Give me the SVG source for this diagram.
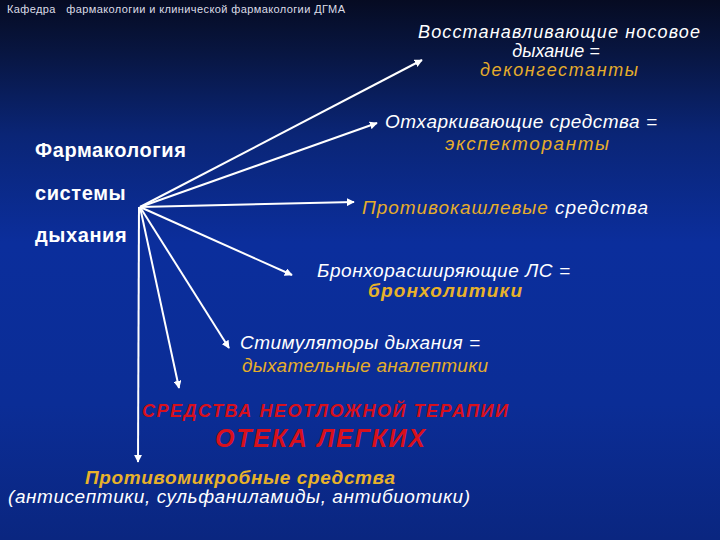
<svg xmlns="http://www.w3.org/2000/svg" width="720" height="540" viewBox="0 0 720 540">
<defs>
<linearGradient id="bg" x1="0" y1="0" x2="0" y2="1">
<stop offset="0" stop-color="#060b22"/>
<stop offset="0.1" stop-color="#081642"/>
<stop offset="0.25" stop-color="#0a2576"/>
<stop offset="0.45" stop-color="#0b2e9c"/>
<stop offset="0.75" stop-color="#0b2d96"/>
<stop offset="1" stop-color="#0a2680"/>
</linearGradient>
<marker id="ah" viewBox="0 0 10 10" refX="9" refY="5" markerWidth="4" markerHeight="4" orient="auto" markerUnits="strokeWidth">
<path d="M0,0 L10,5 L0,10 z" fill="#ffffff"/>
</marker>
<style>
.hdr{font-family:"Liberation Sans",Arial,sans-serif;font-size:11px;fill:#dcdce6}
.ttl{font-family:"Liberation Sans",Arial,sans-serif;font-size:20px;font-weight:bold;fill:#ffffff;letter-spacing:0.6px}
.w{font-family:"Liberation Sans",Arial,sans-serif;font-size:19px;font-style:italic;fill:#ffffff}
.g{font-family:"Liberation Sans",Arial,sans-serif;font-size:19px;font-style:italic;fill:#e6ad2a}
.gb{font-family:"Liberation Sans",Arial,sans-serif;font-size:19px;font-style:italic;font-weight:bold;fill:#e8b22a}
.r{font-family:"Liberation Sans",Arial,sans-serif;font-style:italic;font-weight:bold;fill:#d8101c}
.ln{stroke:#ffffff;stroke-width:2;fill:none;marker-end:url(#ah)}
.s18{font-size:18px}
</style>
</defs>
<rect x="0" y="0" width="720" height="540" fill="url(#bg)"/>
<text class="hdr" x="7" y="13" xml:space="preserve" textLength="338">Кафедра   фармакологии и клинической фармакологии ДГМА</text>

<g id="title">
<text class="ttl" x="35" y="157">Фармакология</text>
<text class="ttl" x="35" y="200">системы</text>
<text class="ttl" x="35" y="242">дыхания</text>
</g>

<g id="connectors">
<line class="ln" x1="140" y1="207" x2="422" y2="60"/>
<line class="ln" x1="140" y1="207" x2="377" y2="123"/>
<line class="ln" x1="140" y1="207" x2="354" y2="202"/>
<line class="ln" x1="140" y1="207" x2="292" y2="275"/>
<line class="ln" x1="140" y1="207" x2="229" y2="348"/>
<line class="ln" x1="140" y1="207" x2="179" y2="388"/>
<line class="ln" x1="139" y1="207" x2="138" y2="462"/>
</g>

<g id="n1">
<text class="w s18" x="559" y="38" text-anchor="middle" textLength="282">Восстанавливающие носовое</text>
<text class="w s18" x="556" y="57" text-anchor="middle">дыхание =</text>
<text class="g s18" x="559" y="76" text-anchor="middle" textLength="158">деконгестанты</text>
</g>

<g id="n2">
<text class="w" x="385" y="128" textLength="272">Отхаркивающие средства =</text>
<text class="g" x="527" y="150" text-anchor="middle" textLength="164">экспекторанты</text>
</g>

<g id="n3">
<text x="362" y="214" textLength="286"><tspan class="g">Противокашлевые</tspan><tspan class="w"> средства</tspan></text>
</g>

<g id="n4">
<text class="w" x="317" y="277" textLength="253">Бронхорасширяющие ЛС =</text>
<text class="gb" x="445" y="297" text-anchor="middle" textLength="154">бронхолитики</text>
</g>

<g id="n5">
<text class="w" x="240" y="349" textLength="240">Стимуляторы дыхания =</text>
<text class="g" x="242" y="372" textLength="246">дыхательные аналептики</text>
</g>

<g id="n6">
<text class="r" x="142" y="417" font-size="18" textLength="366">СРЕДСТВА НЕОТЛОЖНОЙ ТЕРАПИИ</text>
<text class="r" x="215" y="447" font-size="25" textLength="210">ОТЕКА ЛЕГКИХ</text>
</g>

<g id="n7">
<text class="gb" x="85" y="484" textLength="310">Противомикробные средства</text>
<text class="w" x="8" y="503" textLength="462">(антисептики, сульфаниламиды, антибиотики)</text>
</g>
</svg>
